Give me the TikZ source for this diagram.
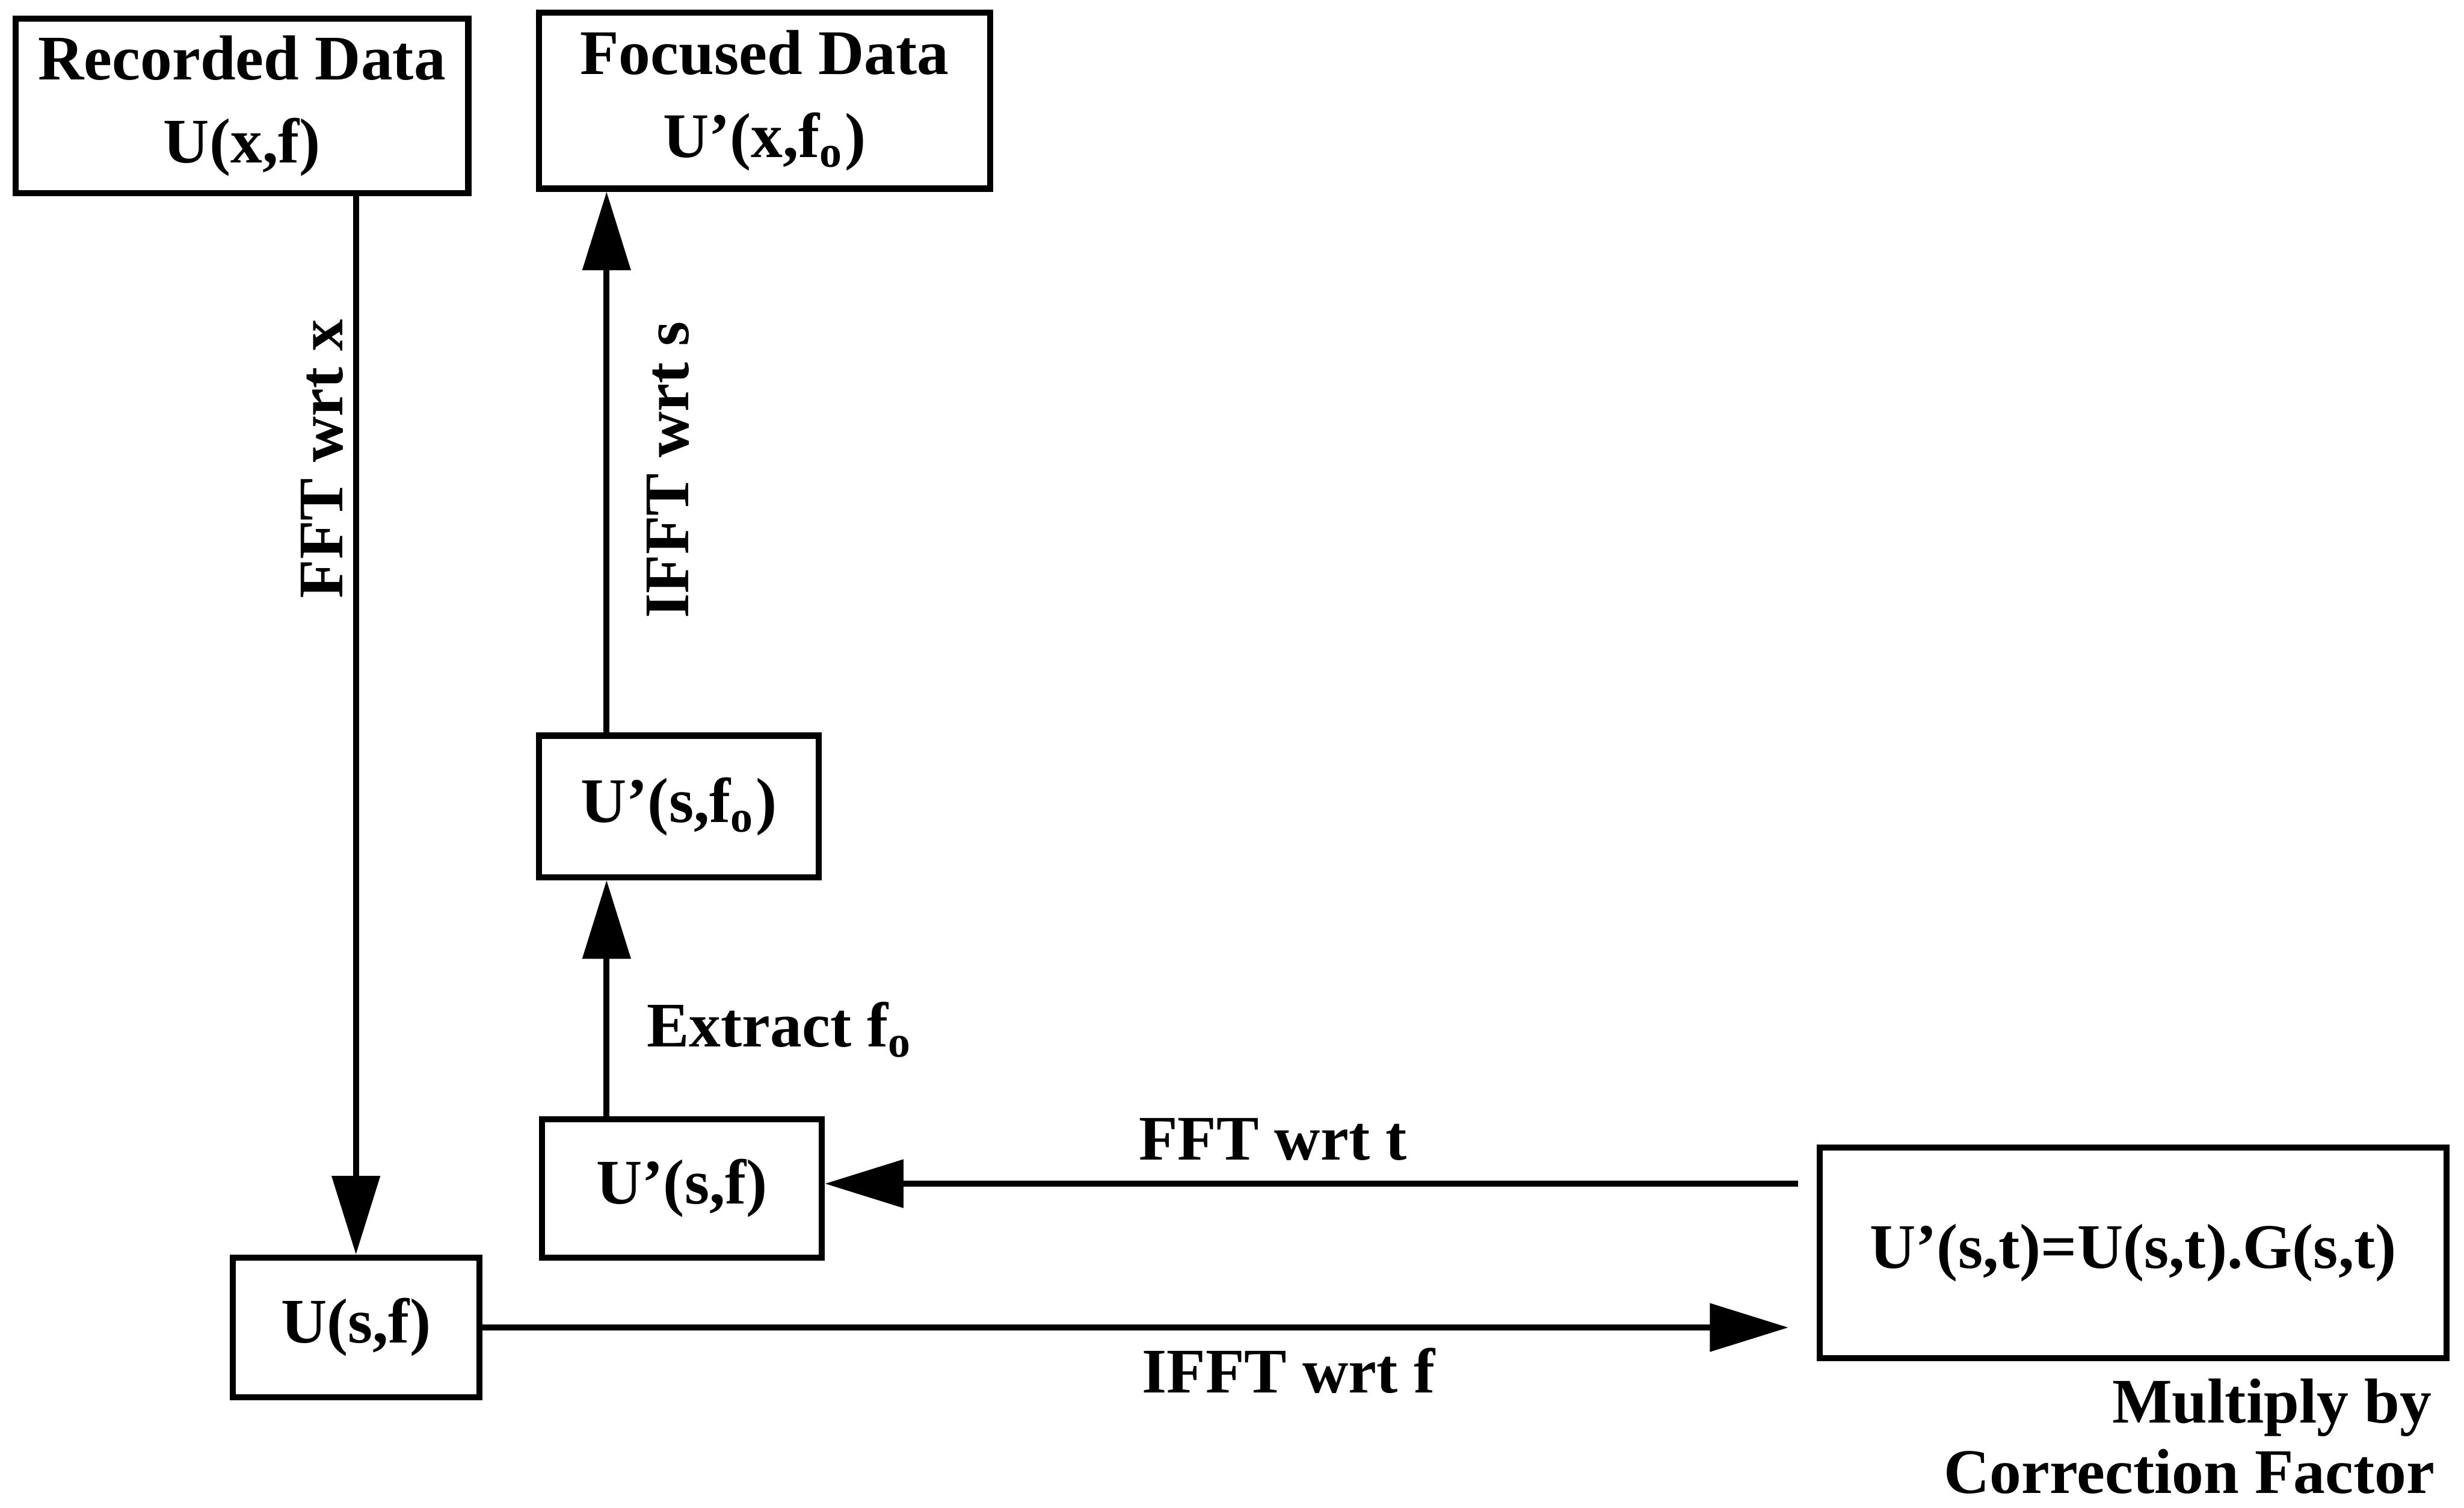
\documentclass[tikz,border=0pt]{standalone}
\usepackage{fontspec}
\setmainfont{Liberation Serif}
\usetikzlibrary{arrows.meta}

\begin{document}
\begin{tikzpicture}[>={Triangle[length=0.5cm,width=0.3cm]}, line width=1.1pt,
  every node/.style={font=\fontsize{11.5}{15}\selectfont\bfseries},
  box/.style={draw, inner sep=0pt, align=center},
  arr/.style={->}]
  \useasboundingbox (0,0) rectangle (15.68,-9.59);
  % Kasser
  \node[box, minimum width=2.88cm, minimum height=1.11cm] (rec) at (1.54,-0.675) {Recorded Data\\U(x,f)};
  \node[box, minimum width=2.87cm, minimum height=1.12cm] (foc) at (4.865,-0.64) {Focused Data\\U'(x,f\textsubscript{o})};
  \node[box, minimum width=1.78cm, minimum height=0.90cm] (usfo) at (4.32,-5.13) {U'(s,f\textsubscript{o})};
  \node[box, minimum width=1.78cm, minimum height=0.88cm] (usfp) at (4.34,-7.56) {U'(s,f)};
  \node[box, minimum width=1.57cm, minimum height=0.89cm] (usf) at (2.265,-8.445) {U(s,f)};
  \node[box, minimum width=3.99cm, minimum height=1.34cm] (corr) at (13.575,-7.97) {U'(s,t)=U(s,t).G(s,t)};
  % Hjelpelinjer for piler
  \coordinate (sline) at (3.86,0);
  \coordinate (tline) at (0,-7.53);
  % Piler
  \draw[arr] (rec.south -| usf.north) -- (usf.north);
  \draw[arr] (usfp.north -| sline) -- (usfo.south -| sline);
  \draw[arr] (usfo.north -| sline) -- (foc.south -| sline);
  \draw[arr, shorten <=0.12cm] (corr.west |- tline) -- (usfp.east |- tline);
  \draw[arr, shorten >=0.18cm] (usf.east) -- (corr.west |- usf.east);
  % Tekst langs pilene
  \node[rotate=90] (lblx) at (2.05,-2.92) {FFT wrt x};
  \node[rotate=90] (lbls) at (4.25,-2.99) {IFFT wrt s};
  \node[anchor=base west] (lble) at (3.98,-6.66) {Extract f\textsubscript{o}};
  \node[anchor=base] (lblt) at (8.10,-7.38) {FFT wrt t};
  \node[anchor=base] (lblf) at (8.20,-8.86) {IFFT wrt f};
  \node[anchor=base east] (mult) at (15.61,-9.05) {Multiply by};
  \node[anchor=base east] (corrf) at (15.63,-9.50) {Correction Factor};
\end{tikzpicture}
\end{document}
